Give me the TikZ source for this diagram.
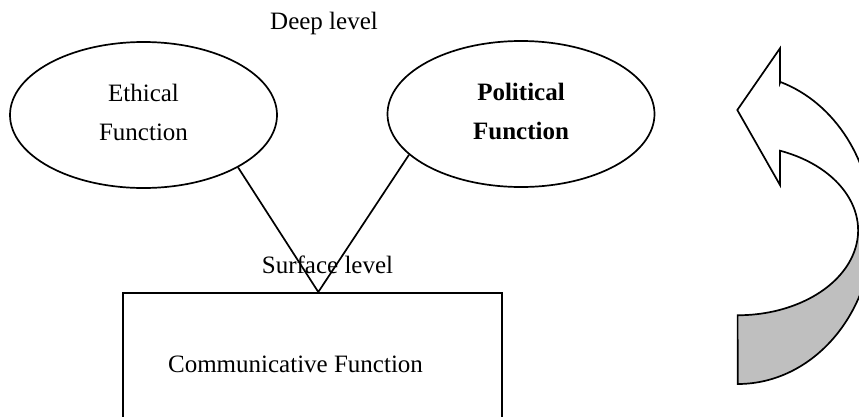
\documentclass[tikz,border=0pt]{standalone}
\usepackage{fontspec}
\setmainfont{Liberation Serif}
\usetikzlibrary{shapes.geometric,calc}
\definecolor{ribbon}{RGB}{191,191,191}
\begin{document}
\begin{tikzpicture}[x=1pt,y=-1pt,
  thickline/.style={line width=1.7pt},
  bubble/.style={ellipse, draw, thickline, minimum width=267pt, minimum height=146pt, inner sep=0pt, align=center},
  lbl/.style={anchor=base, inner sep=0pt},
  every node/.style={font=\fontsize{25}{39}\selectfont}]
\useasboundingbox (0,0) rectangle (859,416);
\clip (0,0) rectangle (859,416);

% labels
\node[lbl] (deep) at (324,29.5) {Deep level};
\node[lbl] (surf) at (327.5,273) {Surface level};

% ellipses
\node[bubble] (eth) at (143.5,115) {Ethical\\Function\vphantom{g}};
\node[bubble] (pol) at (521,114) {\bfseries Political\\\bfseries Function\vphantom{g}};

% box
\node[draw, thickline, minimum width=379pt, minimum height=160pt, anchor=north west, inner sep=0pt] (box) at (122,292) {};
\node[lbl] (comm) at (295.5,372) {Communicative Function};

% connectors
\coordinate (apex) at ($(box.north west)+(196.3,0)$);
\draw[thickline] (eth.-29) -- (apex) -- (pol.200);

% curved arrow
\fill[ribbon] (858.2,230) arc[start angle=0, end angle=90, x radius=120.5, y radius=85]
  -- (737.7,384) arc[start angle=90, end angle=0, x radius=135, y radius=155] -- cycle;
\draw[thickline] (780,82.7) -- (780,48.3) -- (737.3,110) -- (780,185) -- (780,150.7)
  arc[start angle=-69.4, end angle=90, x radius=120.5, y radius=85]
  -- (737.7,384) arc[start angle=90, end angle=-71.6, x radius=135, y radius=155] -- cycle;
\end{tikzpicture}
\end{document}
